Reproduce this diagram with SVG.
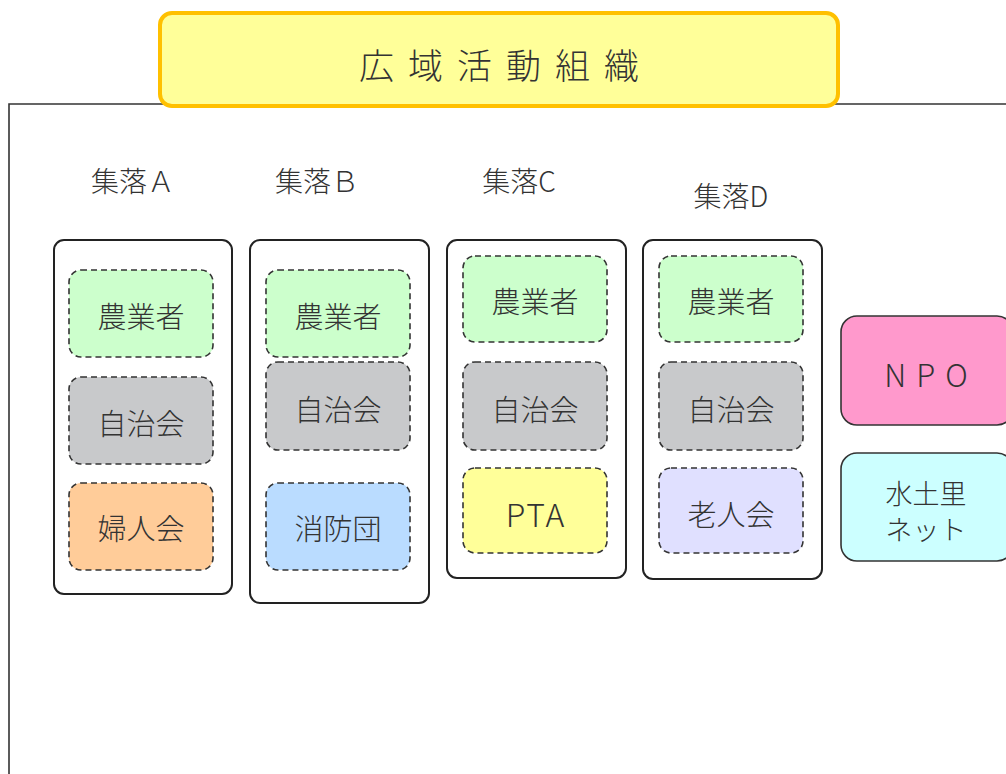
<svg xmlns="http://www.w3.org/2000/svg" width="1006" height="774" viewBox="0 0 1006 774">
<style>
text{font-family:"Noto Sans CJK JP","Noto Sans",sans-serif;fill:#333;text-anchor:middle;dominant-baseline:central;font-weight:300}
.grp{fill:#fff;stroke:#222;stroke-width:2}
.item{stroke:#333;stroke-width:1.6;stroke-dasharray:6 4}
.t{font-size:29px}
.lab{font-size:28px}
.org{stroke:#333;stroke-width:1.6}
</style>
<rect width="1006" height="774" fill="#fff"/>
<g id="frame"><path d="M9,774 V104 H1006" fill="none" stroke="#333" stroke-width="1.6"/></g>
<g id="title">
<rect x="160" y="13" width="678" height="93" rx="12" fill="#ffff99" stroke="#ffc000" stroke-width="4"/>
<text x="506" y="63" style="font-size:35px;letter-spacing:14px">広域活動組織</text>
</g>
<g id="groupA">
<text class="lab" x="133" y="180">集落Ａ</text>
<rect class="grp" x="54" y="240" width="178" height="354" rx="10"/>
<g id="A1"><rect class="item" x="69" y="270" width="144" height="87" rx="12" fill="#ccffcc"/><text class="t" x="141" y="315">農業者</text></g>
<g id="A2"><rect class="item" x="69" y="377" width="144" height="87" rx="12" fill="#c8c9cb"/><text class="t" x="141" y="422">自治会</text></g>
<g id="A3"><rect class="item" x="69" y="483" width="144" height="87" rx="12" fill="#ffcc99"/><text class="t" x="141" y="527">婦人会</text></g>
</g>
<g id="groupB">
<text class="lab" x="317" y="180">集落Ｂ</text>
<rect class="grp" x="250" y="240" width="179" height="363" rx="10"/>
<g id="B1"><rect class="item" x="266" y="270" width="144" height="87" rx="12" fill="#ccffcc"/><text class="t" x="338" y="315">農業者</text></g>
<g id="B2"><rect class="item" x="266" y="362" width="144" height="88" rx="12" fill="#c8c9cb"/><text class="t" x="338" y="408">自治会</text></g>
<g id="B3"><rect class="item" x="266" y="483" width="144" height="87" rx="12" fill="#badcff"/><text class="t" x="338" y="527">消防団</text></g>
</g>
<g id="groupC">
<text class="lab" x="519" y="180">集落C</text>
<rect class="grp" x="447" y="240" width="179" height="338" rx="10"/>
<g id="C1"><rect class="item" x="463" y="256" width="144" height="86" rx="12" fill="#ccffcc"/><text class="t" x="535" y="300">農業者</text></g>
<g id="C2"><rect class="item" x="463" y="362" width="144" height="88" rx="12" fill="#c8c9cb"/><text class="t" x="535" y="408">自治会</text></g>
<g id="C3"><rect class="item" x="463" y="468" width="144" height="85" rx="12" fill="#ffff99"/><text class="t" x="536" y="513" style="font-size:32px;letter-spacing:2px">PTA</text></g>
</g>
<g id="groupD">
<text class="lab" x="731" y="195">集落D</text>
<rect class="grp" x="643" y="240" width="179" height="339" rx="10"/>
<g id="D1"><rect class="item" x="659" y="256" width="144" height="86" rx="12" fill="#ccffcc"/><text class="t" x="731" y="300">農業者</text></g>
<g id="D2"><rect class="item" x="659" y="362" width="144" height="88" rx="12" fill="#c8c9cb"/><text class="t" x="731" y="408">自治会</text></g>
<g id="D3"><rect class="item" x="659" y="468" width="144" height="85" rx="12" fill="#e0e0ff"/><text class="t" x="731" y="513">老人会</text></g>
</g>
<g id="npo"><rect class="org" x="841" y="316" width="172" height="109" rx="16" fill="#ff99cc"/><text x="931" y="373" style="font-size:31px;letter-spacing:10px">NPO</text></g>
<g id="midori"><rect class="org" x="841" y="453" width="172" height="108" rx="16" fill="#ccffff"/><text x="926" y="492" style="font-size:27px">水土里</text><text x="926" y="528" style="font-size:27px">ネット</text></g>
<g id="connectors"/>
</svg>
